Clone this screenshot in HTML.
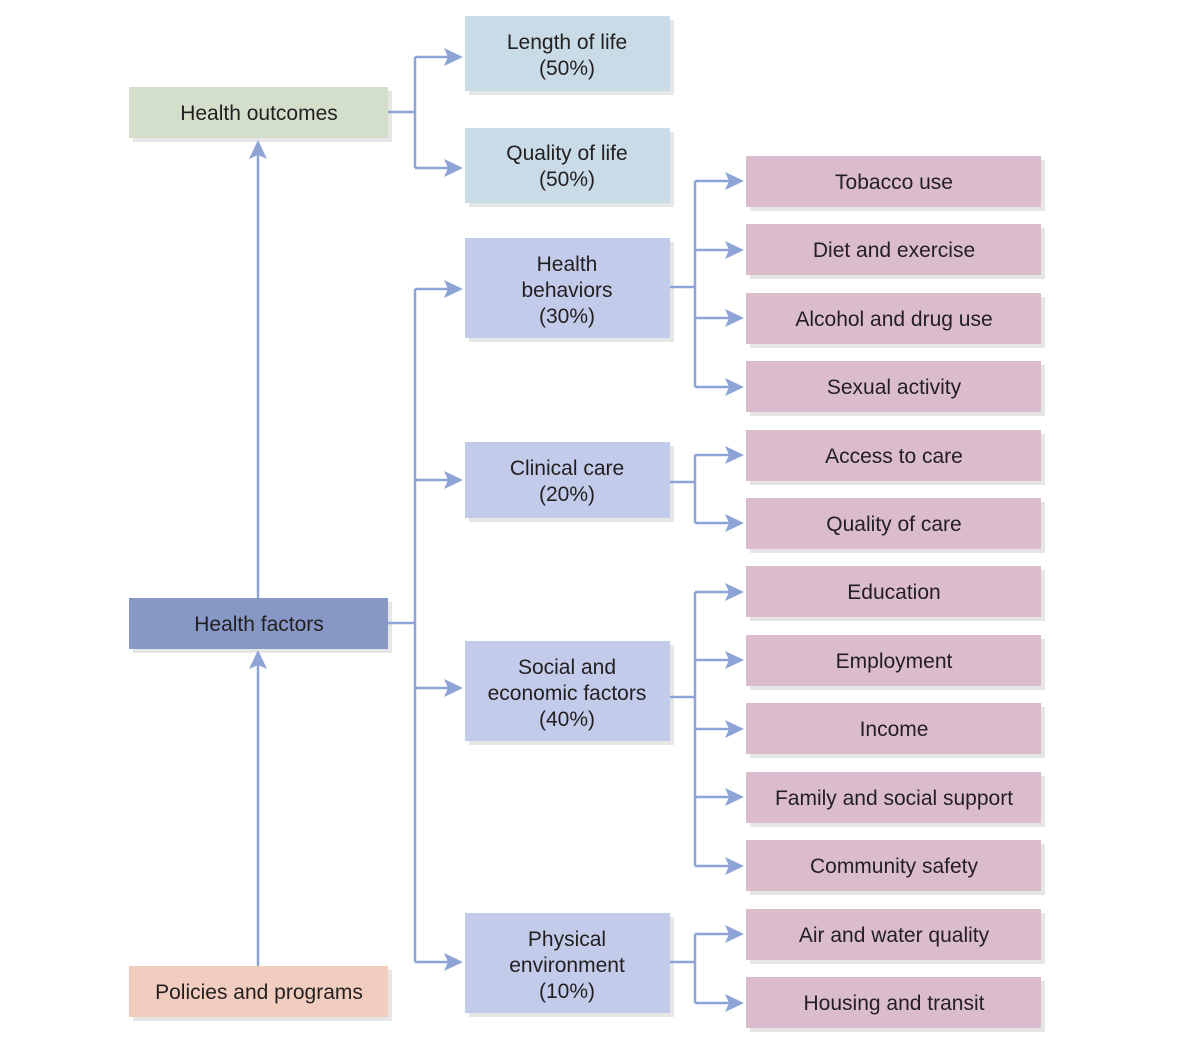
<!DOCTYPE html>
<html><head><meta charset="utf-8"><style>
html,body{margin:0;padding:0;background:#fff;}
svg{display:block;}
text{font-family:"Liberation Sans",Arial,sans-serif;font-size:21px;fill:#231f20;text-anchor:middle;}
</style></head><body>
<svg width="1200" height="1051" viewBox="0 0 1200 1051" xmlns="http://www.w3.org/2000/svg">
<defs>
<g id="ah"><path d="M0,0 L-19,-9 L-15,0 L-19,9 Z" fill="#8ea3d6"/></g>
</defs>
<g fill="#e6e6e6">
<rect x="133" y="91" width="259" height="51"/>
<rect x="133" y="602" width="259" height="51"/>
<rect x="133" y="970" width="259" height="51"/>
<rect x="469" y="20" width="205" height="75"/>
<rect x="469" y="132" width="205" height="75"/>
<rect x="469" y="242" width="205" height="100"/>
<rect x="469" y="446" width="205" height="76"/>
<rect x="469" y="645" width="205" height="100"/>
<rect x="469" y="917" width="205" height="100"/>
<rect x="750" y="160" width="295" height="51"/>
<rect x="750" y="228" width="295" height="51"/>
<rect x="750" y="297" width="295" height="51"/>
<rect x="750" y="365" width="295" height="51"/>
<rect x="750" y="434" width="295" height="51"/>
<rect x="750" y="502" width="295" height="51"/>
<rect x="750" y="570" width="295" height="51"/>
<rect x="750" y="639" width="295" height="51"/>
<rect x="750" y="707" width="295" height="51"/>
<rect x="750" y="776" width="295" height="51"/>
<rect x="750" y="844" width="295" height="51"/>
<rect x="750" y="913" width="295" height="51"/>
<rect x="750" y="981" width="295" height="51"/>
</g>
<rect x="129" y="87" width="259" height="51" fill="#d3dfcb"/>
<rect x="129" y="598" width="259" height="51" fill="#8798c6"/>
<rect x="129" y="966" width="259" height="51" fill="#f1cdbf"/>
<g fill="#c8dbe6">
<rect x="465" y="16" width="205" height="75"/>
<rect x="465" y="128" width="205" height="75"/>
</g>
<g fill="#c2cbe9">
<rect x="465" y="238" width="205" height="100"/>
<rect x="465" y="442" width="205" height="76"/>
<rect x="465" y="641" width="205" height="100"/>
<rect x="465" y="913" width="205" height="100"/>
</g>
<g fill="#dbbccd">
<rect x="746" y="156" width="295" height="51"/>
<rect x="746" y="224" width="295" height="51"/>
<rect x="746" y="293" width="295" height="51"/>
<rect x="746" y="361" width="295" height="51"/>
<rect x="746" y="430" width="295" height="51"/>
<rect x="746" y="498" width="295" height="51"/>
<rect x="746" y="566" width="295" height="51"/>
<rect x="746" y="635" width="295" height="51"/>
<rect x="746" y="703" width="295" height="51"/>
<rect x="746" y="772" width="295" height="51"/>
<rect x="746" y="840" width="295" height="51"/>
<rect x="746" y="909" width="295" height="51"/>
<rect x="746" y="977" width="295" height="51"/>
</g>
<g stroke="#8ea3d6" stroke-width="2.5" fill="none">
<path d="M388,112 H415 M415,57 V168 M415,57 H450 M415,168 H450"/>
<path d="M258,598 V155 M258,966 V665"/>
<path d="M388,623 H415 M415,289 V962 M415,289 H450 M415,480 H450 M415,688 H450 M415,962 H450"/>
<path d="M670,287 H695 M695,181 V387 M695,181 H730 M695,250 H730 M695,318 H730 M695,387 H730"/>
<path d="M670,482 H695 M695,455 V523 M695,455 H730 M695,523 H730"/>
<path d="M670,697 H695 M695,592 V866 M695,592 H730 M695,660 H730 M695,729 H730 M695,797 H730 M695,866 H730"/>
<path d="M670,962 H695 M695,934 V1003 M695,934 H730 M695,1003 H730"/>
</g>
<use href="#ah" x="463" y="57"/><use href="#ah" x="463" y="168"/>
<use href="#ah" x="463" y="289"/><use href="#ah" x="463" y="480"/><use href="#ah" x="463" y="688"/><use href="#ah" x="463" y="962"/>
<g transform="translate(258,140) rotate(-90)"><use href="#ah"/></g>
<g transform="translate(258,650) rotate(-90)"><use href="#ah"/></g>
<use href="#ah" x="744" y="181"/><use href="#ah" x="744" y="250"/><use href="#ah" x="744" y="318"/><use href="#ah" x="744" y="387"/>
<use href="#ah" x="744" y="455"/><use href="#ah" x="744" y="523"/>
<use href="#ah" x="744" y="592"/><use href="#ah" x="744" y="660"/><use href="#ah" x="744" y="729"/><use href="#ah" x="744" y="797"/><use href="#ah" x="744" y="866"/>
<use href="#ah" x="744" y="934"/><use href="#ah" x="744" y="1003"/>
<text x="259" y="120">Health outcomes</text>
<text x="259" y="631">Health factors</text>
<text x="259" y="999">Policies and programs</text>
<text x="567" y="49">Length of life</text><text x="567" y="75">(50%)</text>
<text x="567" y="160">Quality of life</text><text x="567" y="186">(50%)</text>
<text x="567" y="271">Health</text><text x="567" y="297">behaviors</text><text x="567" y="323">(30%)</text>
<text x="567" y="475">Clinical care</text><text x="567" y="501">(20%)</text>
<text x="567" y="674">Social and</text><text x="567" y="700">economic factors</text><text x="567" y="726">(40%)</text>
<text x="567" y="946">Physical</text><text x="567" y="972">environment</text><text x="567" y="998">(10%)</text>
<text x="894" y="189">Tobacco use</text>
<text x="894" y="257">Diet and exercise</text>
<text x="894" y="326">Alcohol and drug use</text>
<text x="894" y="394">Sexual activity</text>
<text x="894" y="463">Access to care</text>
<text x="894" y="531">Quality of care</text>
<text x="894" y="599">Education</text>
<text x="894" y="668">Employment</text>
<text x="894" y="736">Income</text>
<text x="894" y="805">Family and social support</text>
<text x="894" y="873">Community safety</text>
<text x="894" y="942">Air and water quality</text>
<text x="894" y="1010">Housing and transit</text>
</svg>
</body></html>
